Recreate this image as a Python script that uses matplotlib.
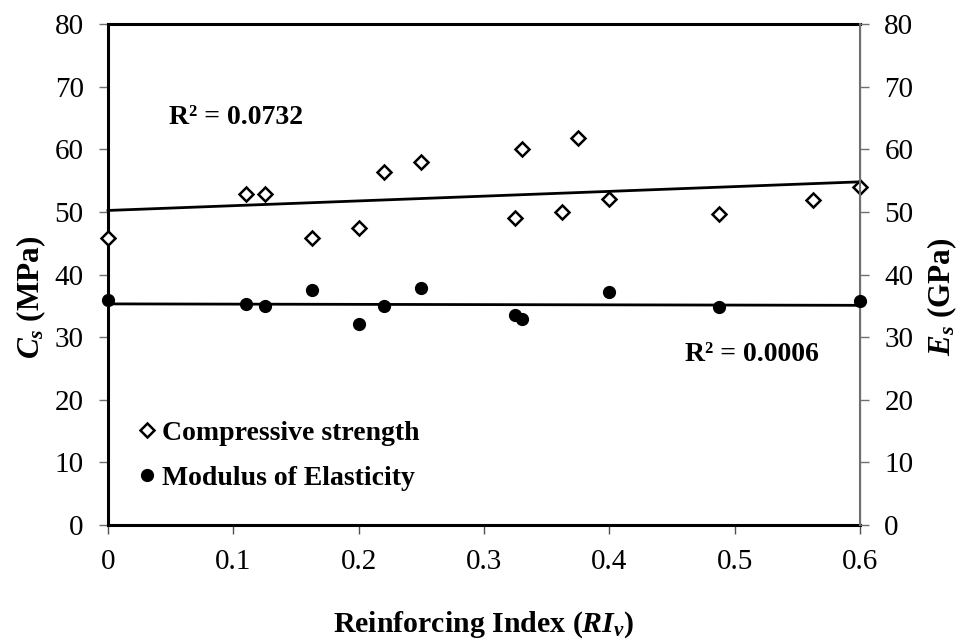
import numpy as np
from matplotlib import pyplot as plt
from matplotlib import rcParams

# datos
ri_cs = [0, 0.11, 0.125, 0.1625, 0.2, 0.22, 0.25, 0.325, 0.33, 0.3625, 0.375, 0.4, 0.4875, 0.5625, 0.6]
cs = [45.8, 52.8, 52.9, 45.9, 47.5, 56.3, 58.0, 49.0, 60.1, 50.0, 61.8, 52.1, 49.7, 51.9, 54.0]

ri_es = [0, 0.11, 0.125, 0.1625, 0.2, 0.22, 0.25, 0.325, 0.33, 0.4, 0.4875, 0.6]
es = [35.9, 35.3, 34.9, 37.5, 32.1, 34.9, 37.8, 33.5, 32.9, 37.2, 34.8, 35.7]

xticks = [0, 0.1, 0.2, 0.3, 0.4, 0.5, 0.6]
xtick_labels = ["0", "0.1", "0.2", "0.3", "0.4", "0.5", "0.6"]
yticks = [0, 10, 20, 30, 40, 50, 60, 70, 80]

rcParams["font.family"] = ["Liberation Serif", "DejaVu Serif"]
rcParams["mathtext.fontset"] = "custom"
rcParams["mathtext.rm"] = "Liberation Serif:bold"
rcParams["mathtext.it"] = "Liberation Serif:bold:italic"
rcParams["mathtext.bf"] = "Liberation Serif:bold"

fig = plt.figure(figsize=(9.6, 6.42), dpi=100)
ax = fig.add_axes([0.1125, 0.1822, 0.7833, 0.7804])
ax2 = ax.twinx()

# lineas de tendencia (ajuste lineal)
xx = np.array([0, 0.6])
p1 = np.polyfit(ri_cs, cs, 1)
p2 = np.polyfit(ri_es, es, 1)
ax.plot(xx, np.polyval(p1, xx), color="black", lw=2, zorder=2, clip_on=False)
ax2.plot(xx, np.polyval(p2, xx), color="black", lw=2, zorder=2, clip_on=False)

h1, = ax.plot(ri_cs, cs, linestyle="none", marker="D", ms=7.2, mfc="white", mec="black",
              mew=1.8, clip_on=False, zorder=3, label="Compressive strength")
h2, = ax2.plot(ri_es, es, linestyle="none", marker="o", ms=8.5, color="black",
               clip_on=False, zorder=3, label="Modulus of Elasticity")

for a in (ax, ax2):
    a.set_xlim(0, 0.6)
    a.set_ylim(0, 80)
    a.set_yticks(yticks)
    a.tick_params(axis="y", direction="out", length=6.5, width=1, color="#707070",
                  labelsize=21, pad=11)

ax.set_xticks(xticks)
ax.set_xticklabels(xtick_labels)
ax.tick_params(axis="x", direction="out", length=6.5, width=1, color="#505050",
               labelsize=21, pad=11)

for s in ("left", "bottom", "top"):
    ax.spines[s].set_linewidth(2.2)
    ax.spines[s].set_color("black")
ax2.spines["right"].set_color("#707070")
ax2.spines["right"].set_linewidth(1.5)
for s in ("left", "bottom", "top"):
    ax2.spines[s].set_visible(False)

# titulos de ejes
ax.set_xlabel("Reinforcing Index ($RI_v$)", fontsize=21.5, fontweight="bold", va="center")
ax.xaxis.set_label_coords(0.5, -0.198)
ax.set_ylabel("$C_s$ (MPa)", fontsize=22.5, fontweight="bold", va="center")
ax.yaxis.set_label_coords(-0.102, 0.455)
ax2.set_ylabel("$E_s$ (GPa)", fontsize=22.5, fontweight="bold", va="center")
ax2.yaxis.set_label_coords(1.109, 0.455)

ax.text(0.0487, 65.0, "R² = 0.0732", fontsize=20, fontweight="bold", ha="left", va="center")
ax.text(0.4604, 27.3, "R² = 0.0006", fontsize=20, fontweight="bold", ha="left", va="center")

leg = ax2.legend([h1, h2], ["Compressive strength", "Modulus of Elasticity"],
                 loc="center left", bbox_to_anchor=(0.041, 0.139), frameon=False,
                 prop={"size": 20, "weight": "bold"}, handlelength=0.6,
                 handletextpad=0.25, labelspacing=0.7, borderpad=0, borderaxespad=0)

fig.savefig("out.png", dpi=100)
